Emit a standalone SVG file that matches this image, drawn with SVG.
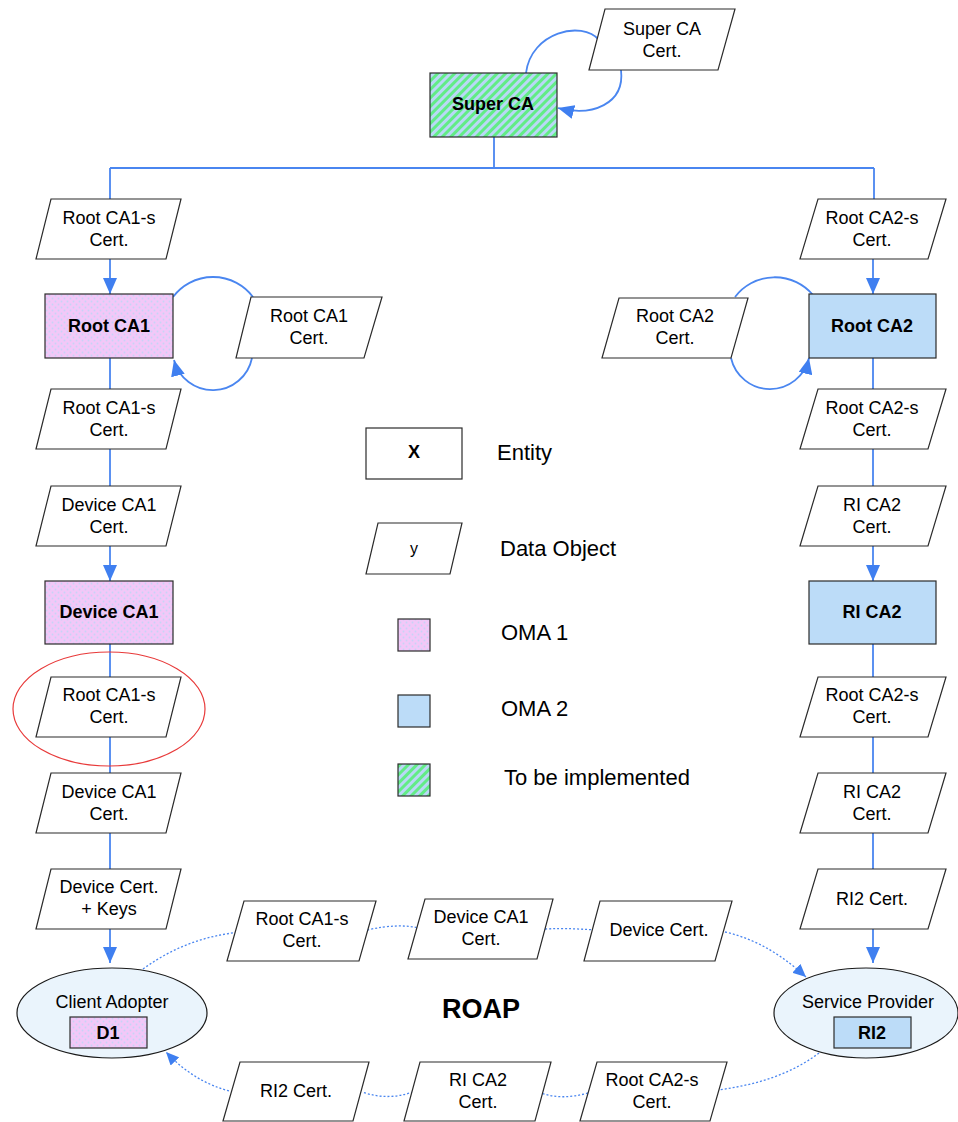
<svg xmlns="http://www.w3.org/2000/svg" width="958" height="1122" viewBox="0 0 958 1122">
  <defs>
    <!-- green/blue diagonal hatch: "to be implemented" -->
    <pattern id="hatch" width="6" height="6" patternUnits="userSpaceOnUse" patternTransform="rotate(45)">
      <rect width="6" height="6" fill="#b9d8f6"/>
      <rect width="3" height="6" fill="#62ec86"/>
    </pattern>
    <!-- pink with light blue dots: OMA 1 -->
    <pattern id="dots" width="6" height="6" patternUnits="userSpaceOnUse">
      <rect width="6" height="6" fill="#f2c8f8"/>
      <circle cx="1.5" cy="1.5" r="0.9" fill="#c6d4f6"/>
      <circle cx="4.5" cy="4.5" r="0.9" fill="#c6d4f6"/>
    </pattern>
    <marker id="arrow" markerUnits="userSpaceOnUse" markerWidth="16" markerHeight="14" refX="16" refY="7" orient="auto">
      <path d="M0,0 L16,7 L0,14 z" fill="#3f7ff0"/>
    </marker>
    <marker id="arrowSm" markerUnits="userSpaceOnUse" markerWidth="13" markerHeight="12" refX="13" refY="6" orient="auto">
      <path d="M0,0 L13,6 L0,12 z" fill="#3f7ff0"/>
    </marker>
  </defs>
  <style>
    text { font-family: "Liberation Sans", Arial, sans-serif; fill: #000; text-anchor: middle; }
    .t { font-size: 18px; }
    .b { font-size: 18px; font-weight: bold; }
    .lg { font-size: 22px; text-anchor: start; }
    .roap { font-size: 27px; font-weight: bold; }
    .data { fill: #fff; stroke: #2b2b2b; stroke-width: 1.2; }
    .ent { stroke: #2b2b2b; stroke-width: 1.2; }
    .oma1 { fill: url(#dots); }
    .oma2 { fill: #bcdcf8; }
    .todo { fill: url(#hatch); }
    .host { fill: #eaf4fc; stroke: #1a1a1a; stroke-width: 1.2; }
    .link { fill: none; stroke: #4a86f0; stroke-width: 1.8; }
    .dot { fill: none; stroke: #4a86f0; stroke-width: 1.3; stroke-dasharray: 2 2; }
    .mark { fill: none; stroke: #e83a3a; stroke-width: 1.2; }
  </style>

  <rect width="958" height="1122" fill="#fff"/>

  <!-- connectors -->
  <g id="connectors">
    <path class="link" d="M494,137 V168 M110,168 H874 M110,168 V199 M874,168 V199"/>
    <!-- left chain -->
    <path class="link" d="M110,259 V294" marker-end="url(#arrow)"/>
    <path class="link" d="M110,358 V389 M110,449 V486"/>
    <path class="link" d="M110,546 V581" marker-end="url(#arrow)"/>
    <path class="link" d="M110,644 V677 M110,737 V773 M110,833 V869"/>
    <path class="link" d="M110,929 V963" marker-end="url(#arrow)"/>
    <!-- right chain -->
    <path class="link" d="M873,259 V294" marker-end="url(#arrow)"/>
    <path class="link" d="M873,358 V389 M873,449 V486"/>
    <path class="link" d="M873,546 V581" marker-end="url(#arrow)"/>
    <path class="link" d="M873,644 V677 M873,737 V773 M873,833 V869"/>
    <path class="link" d="M873,929 V963" marker-end="url(#arrow)"/>
    <!-- self-signing loops -->
    <path class="link" d="M526,73 C531,32 582,20 599,40"/>
    <path class="link" d="M621,70 C625,104 592,117 558,108" marker-end="url(#arrow)"/>
    <path class="link" d="M173,297 A50,50 0 0 1 253,297"/>
    <path class="link" d="M252,358 A40,40 0 0 1 174,360" marker-end="url(#arrow)"/>
    <path class="link" d="M735,297 A50,50 0 0 1 813,295"/>
    <path class="link" d="M731,358 A40,40 0 0 0 809,358" marker-end="url(#arrow)"/>
    <!-- ROAP exchange -->
    <path class="dot" d="M143,969 C175,946 205,936 240,932"/>
    <path class="dot" d="M367,930 C390,925 405,925 419,928"/>
    <path class="dot" d="M545,929 C565,928 580,929 596,930"/>
    <path class="dot" d="M725,932 C760,940 785,958 806,977" marker-end="url(#arrowSm)"/>
    <path class="dot" d="M819,1053 C790,1075 755,1085 718,1090"/>
    <path class="dot" d="M588,1093 C570,1098 555,1098 541,1093"/>
    <path class="dot" d="M413,1092 C395,1098 380,1098 362,1092"/>
    <path class="dot" d="M233,1092 C205,1085 185,1072 166,1052" marker-end="url(#arrowSm)"/>
  </g>

  <!-- top -->
  <g id="super-ca">
    <rect class="ent todo" x="430" y="73" width="127" height="64"/>
    <text class="b" x="493" y="110">Super CA</text>
  </g>
  <g id="super-ca-cert">
    <polygon class="data" points="605,9 735,9 718,70 589,70"/>
    <text class="t" x="662" y="35">Super CA</text>
    <text class="t" x="662" y="57">Cert.</text>
  </g>

  <!-- left column -->
  <g id="l-rootca1s-cert-1">
    <polygon class="data" points="51,199 181,199 166,259 36,259"/>
    <text class="t" x="109" y="224">Root CA1-s</text>
    <text class="t" x="109" y="246">Cert.</text>
  </g>
  <g id="root-ca1">
    <rect class="ent oma1" x="45" y="294" width="128" height="64"/>
    <text class="b" x="109" y="332">Root CA1</text>
  </g>
  <g id="root-ca1-cert">
    <polygon class="data" points="251,297 382,297 364,358 236,358"/>
    <text class="t" x="309" y="322">Root CA1</text>
    <text class="t" x="309" y="344">Cert.</text>
  </g>
  <g id="l-rootca1s-cert-2">
    <polygon class="data" points="51,389 181,389 166,449 36,449"/>
    <text class="t" x="109" y="414">Root CA1-s</text>
    <text class="t" x="109" y="436">Cert.</text>
  </g>
  <g id="l-deviceca1-cert-1">
    <polygon class="data" points="51,486 181,486 166,546 36,546"/>
    <text class="t" x="109" y="511">Device CA1</text>
    <text class="t" x="109" y="533">Cert.</text>
  </g>
  <g id="device-ca1">
    <rect class="ent oma1" x="45" y="581" width="128" height="63"/>
    <text class="b" x="109" y="618">Device CA1</text>
  </g>
  <g id="l-rootca1s-cert-3">
    <ellipse class="mark" cx="109" cy="709" rx="96" ry="57"/>
    <polygon class="data" points="51,677 181,677 166,737 36,737"/>
    <text class="t" x="109" y="701">Root CA1-s</text>
    <text class="t" x="109" y="723">Cert.</text>
  </g>
  <g id="l-deviceca1-cert-2">
    <polygon class="data" points="51,773 181,773 166,833 36,833"/>
    <text class="t" x="109" y="798">Device CA1</text>
    <text class="t" x="109" y="820">Cert.</text>
  </g>
  <g id="device-cert-keys">
    <polygon class="data" points="51,869 181,869 166,929 36,929"/>
    <text class="t" x="109" y="893">Device Cert.</text>
    <text class="t" x="109" y="915">+ Keys</text>
  </g>
  <g id="client-adopter">
    <ellipse class="host" cx="112" cy="1013" rx="95" ry="45"/>
    <text class="t" x="112" y="1008">Client Adopter</text>
    <rect class="ent oma1" x="70" y="1017" width="77" height="31"/>
    <text class="b" x="108" y="1039">D1</text>
  </g>

  <!-- right column -->
  <g id="r-rootca2s-cert-1">
    <polygon class="data" points="818,199 946,199 928,259 800,259"/>
    <text class="t" x="872" y="224">Root CA2-s</text>
    <text class="t" x="872" y="246">Cert.</text>
  </g>
  <g id="root-ca2">
    <rect class="ent oma2" x="809" y="294" width="127" height="64"/>
    <text class="b" x="872" y="332">Root CA2</text>
  </g>
  <g id="root-ca2-cert">
    <polygon class="data" points="619,298 748,298 731,358 602,358"/>
    <text class="t" x="675" y="322">Root CA2</text>
    <text class="t" x="675" y="344">Cert.</text>
  </g>
  <g id="r-rootca2s-cert-2">
    <polygon class="data" points="818,389 946,389 928,449 800,449"/>
    <text class="t" x="872" y="414">Root CA2-s</text>
    <text class="t" x="872" y="436">Cert.</text>
  </g>
  <g id="r-rica2-cert-1">
    <polygon class="data" points="818,486 946,486 928,546 800,546"/>
    <text class="t" x="872" y="511">RI CA2</text>
    <text class="t" x="872" y="533">Cert.</text>
  </g>
  <g id="ri-ca2">
    <rect class="ent oma2" x="809" y="581" width="127" height="63"/>
    <text class="b" x="872" y="618">RI CA2</text>
  </g>
  <g id="r-rootca2s-cert-3">
    <polygon class="data" points="818,677 946,677 928,737 800,737"/>
    <text class="t" x="872" y="701">Root CA2-s</text>
    <text class="t" x="872" y="723">Cert.</text>
  </g>
  <g id="r-rica2-cert-2">
    <polygon class="data" points="818,773 946,773 928,833 800,833"/>
    <text class="t" x="872" y="798">RI CA2</text>
    <text class="t" x="872" y="820">Cert.</text>
  </g>
  <g id="r-ri2-cert">
    <polygon class="data" points="818,869 946,869 928,929 800,929"/>
    <text class="t" x="872" y="905">RI2 Cert.</text>
  </g>
  <g id="service-provider">
    <ellipse class="host" cx="866" cy="1013" rx="92" ry="45"/>
    <text class="t" x="868" y="1008">Service Provider</text>
    <rect class="ent oma2" x="834" y="1017" width="77" height="31"/>
    <text class="b" x="872" y="1039">RI2</text>
  </g>

  <!-- ROAP messages -->
  <g id="roap-label">
    <text class="roap" x="481" y="1018">ROAP</text>
  </g>
  <g id="m-rootca1s-cert">
    <polygon class="data" points="244,901 376,901 359,961 227,961"/>
    <text class="t" x="302" y="925">Root CA1-s</text>
    <text class="t" x="302" y="947">Cert.</text>
  </g>
  <g id="m-deviceca1-cert">
    <polygon class="data" points="425,899 553,899 537,959 408,959"/>
    <text class="t" x="481" y="923">Device CA1</text>
    <text class="t" x="481" y="945">Cert.</text>
  </g>
  <g id="m-device-cert">
    <polygon class="data" points="600,901 732,901 715,961 584,961"/>
    <text class="t" x="659" y="936">Device Cert.</text>
  </g>
  <g id="m-rootca2s-cert">
    <polygon class="data" points="597,1062 727,1062 710,1121 580,1121"/>
    <text class="t" x="652" y="1086">Root CA2-s</text>
    <text class="t" x="652" y="1108">Cert.</text>
  </g>
  <g id="m-rica2-cert">
    <polygon class="data" points="420,1062 551,1062 535,1121 404,1121"/>
    <text class="t" x="478" y="1086">RI CA2</text>
    <text class="t" x="478" y="1108">Cert.</text>
  </g>
  <g id="m-ri2-cert">
    <polygon class="data" points="240,1062 369,1062 353,1121 223,1121"/>
    <text class="t" x="296" y="1097">RI2 Cert.</text>
  </g>

  <!-- legend -->
  <g id="legend">
    <rect class="ent" x="366" y="428" width="96" height="51" fill="#fff"/>
    <text class="b" x="414" y="458">X</text>
    <text class="lg" x="497" y="460">Entity</text>
    <polygon class="data" points="378,523 462,523 450,574 366,574"/>
    <text class="t" x="414" y="554" style="font-size:16px">y</text>
    <text class="lg" x="500" y="556">Data Object</text>
    <rect class="ent oma1" x="398" y="619" width="32" height="32"/>
    <text class="lg" x="501" y="640">OMA 1</text>
    <rect class="ent oma2" x="398" y="695" width="32" height="32"/>
    <text class="lg" x="501" y="716">OMA 2</text>
    <rect class="ent todo" x="398" y="764" width="32" height="32"/>
    <text class="lg" x="504" y="785">To be implemented</text>
  </g>
</svg>
